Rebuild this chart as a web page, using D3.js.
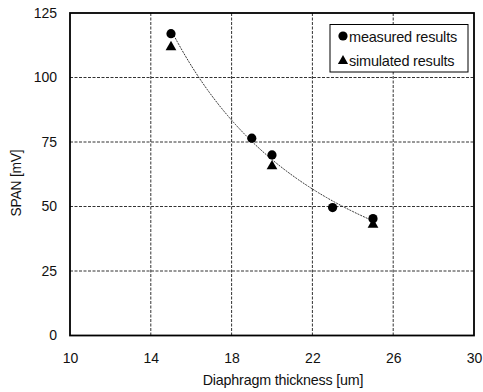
<!DOCTYPE html>
<html><head><meta charset="utf-8">
<script src="https://cdn.jsdelivr.net/npm/d3@7"></script>
<style>body{margin:0;background:#fff}svg{display:block}text{font-family:"Liberation Sans",Arial,sans-serif;fill:#111}</style>
</head><body>
<svg id="c" width="483" height="392"></svg>
<script>
const xTicks = [10, 14, 18, 22, 26, 30];
const yTicks = [0, 25, 50, 75, 100, 125];
const measuredX = [15, 19, 20, 23, 25];
const measuredY = [117, 76.5, 70, 49.6, 45.3];
const simulatedX = [15, 20, 25];
const simulatedY = [111.8, 65.6, 43];
const legendLabels = ["measured results", "simulated results"];
const xLabel = "Diaphragm thickness [um]";
const yLabel = "SPAN [mV]";

const svg = d3.select("#c");
const L = 70, R = 474, T = 13, B = 335.5;
const x = d3.scaleLinear().domain([10, 30]).range([L, R]);
const y = d3.scaleLinear().domain([0, 125]).range([B, T]);

// grid
const g = svg.append("g");
xTicks.slice(1, -1).forEach(t => g.append("line").attr("x1", x(t)).attr("x2", x(t)).attr("y1", T).attr("y2", B)
  .attr("stroke", "#333").attr("stroke-width", 1).attr("stroke-dasharray", "3,1.5"));
yTicks.slice(1, -1).forEach(t => g.append("line").attr("y1", y(t)).attr("y2", y(t)).attr("x1", L).attr("x2", R)
  .attr("stroke", "#333").attr("stroke-width", 1).attr("stroke-dasharray", "3,1.5"));

// trend line: power-law fit of measured data
const lx = measuredX.map(Math.log), ly = measuredY.map(Math.log);
const mx = d3.mean(lx), my = d3.mean(ly);
const b = d3.sum(lx.map((v, i) => (v - mx) * (ly[i] - my))) / d3.sum(lx.map(v => (v - mx) ** 2));
const a = Math.exp(my - b * mx);
const fitX = d3.range(15, 25.001, 0.1);
svg.append("path").datum(fitX)
  .attr("d", d3.line().x(d => x(d)).y(d => y(a * Math.pow(d, b))))
  .attr("fill", "none").attr("stroke", "#222").attr("stroke-width", 0.9).attr("stroke-dasharray", "2,1");

// frame
svg.append("rect").attr("x", L).attr("y", T).attr("width", R - L).attr("height", B - T)
  .attr("fill", "none").attr("stroke", "#000").attr("stroke-width", 1.8);

// axes
const xa = svg.append("g").attr("transform", `translate(0,${B})`)
  .call(d3.axisBottom(x).tickValues(xTicks).tickSize(0).tickPadding(18));
const ya = svg.append("g").attr("transform", `translate(${L},0)`)
  .call(d3.axisLeft(y).tickValues(yTicks).tickSize(0).tickPadding(13));
[xa, ya].forEach(a => { a.select(".domain").remove(); a.selectAll("text").attr("font-size", 14).attr("font-family", "Liberation Sans, Arial, sans-serif").attr("fill", "#111"); });

// points
const sym = d3.symbol();
svg.append("g").selectAll("path").data(simulatedX).join("path")
  .attr("transform", (d, i) => `translate(${x(d)},${y(simulatedY[i])})`)
  .attr("d", sym.type(d3.symbolTriangle).size(50)()).attr("fill", "#000");
svg.append("g").selectAll("circle").data(measuredX).join("circle")
  .attr("cx", d => x(d)).attr("cy", (d, i) => y(measuredY[i])).attr("r", 4.6).attr("fill", "#000");

// legend
svg.append("rect").attr("x", 330).attr("y", 24.5).attr("width", 138).attr("height", 47.5)
  .attr("fill", "#fff").attr("stroke", "#000").attr("stroke-width", 1);
svg.append("circle").attr("cx", 343).attr("cy", 36).attr("r", 4.6).attr("fill", "#000");
svg.append("path").attr("transform", "translate(343,61)").attr("d", d3.symbol().type(d3.symbolTriangle).size(45)()).attr("fill", "#000");
legendLabels.forEach((t, i) => svg.append("text").attr("x", 349).attr("y", 41.5 + i * 24.5).attr("font-size", 14.5).attr("letter-spacing", -0.2).text(t));

// axis titles
svg.append("text").attr("x", 283).attr("y", 385).attr("text-anchor", "middle").attr("font-size", 14.3).attr("letter-spacing", -0.2).text(xLabel);
svg.append("text").attr("transform", "translate(21,183) rotate(-90)").attr("text-anchor", "middle").attr("font-size", 13.8).attr("letter-spacing", -0.2).text(yLabel);
</script>
</body></html>
